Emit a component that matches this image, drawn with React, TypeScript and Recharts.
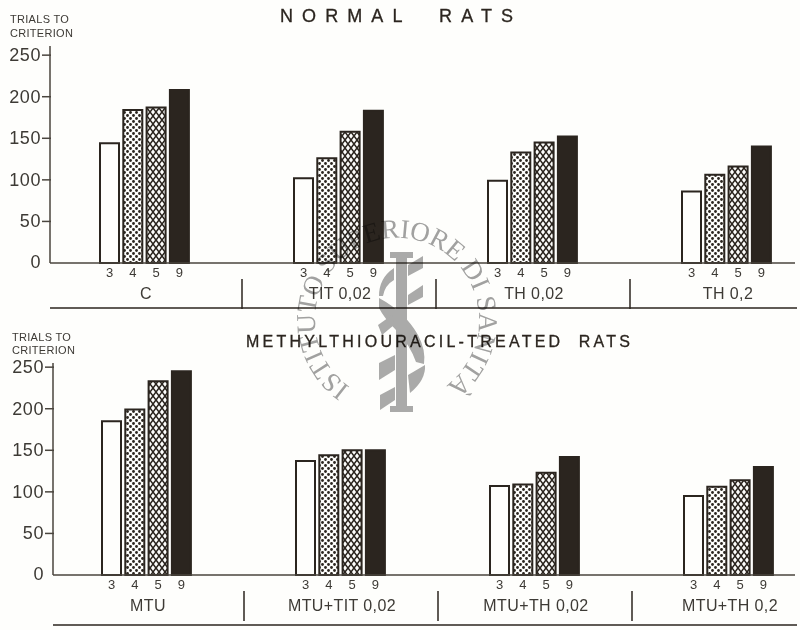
import { BarChart, Bar, XAxis, YAxis, LabelList } from 'recharts';

const INK = '#2b251f';
const AXIS = '#4a453e';
const TEXT = '#3d3a35';
const FONT = '"Liberation Sans", Arial, sans-serif';

const SERIES_KEYS = ['3', '4', '5', '9'];
const SERIES_FILLS = ['#fefefc', 'url(#dots)', 'url(#lattice)', INK];
const Y_TICKS = [0, 50, 100, 150, 200, 250];

const NORMAL_GROUPS = ['C', 'TIT 0,02', 'TH 0,02', 'TH 0,2'];
const NORMAL_3 = [144, 102, 99, 86];
const NORMAL_4 = [184, 126, 133, 106];
const NORMAL_5 = [187, 158, 145, 116];
const NORMAL_9 = [208, 183, 152, 140];

const TREATED_GROUPS = ['MTU', 'MTU+TIT 0,02', 'MTU+TH 0,02', 'MTU+TH 0,2'];
const TREATED_3 = [185, 137, 107, 95];
const TREATED_4 = [199, 144, 109, 106];
const TREATED_5 = [233, 150, 123, 114];
const TREATED_9 = [245, 150, 142, 130];

const buildRows = (groups: string[], series: number[][]) =>
  groups.map((name, i) => {
    const row: Record<string, string | number> = { name };
    SERIES_KEYS.forEach((key, s) => {
      row[key] = series[s][i];
    });
    return row;
  });

const normalData = buildRows(NORMAL_GROUPS, [NORMAL_3, NORMAL_4, NORMAL_5, NORMAL_9]);
const treatedData = buildRows(TREATED_GROUPS, [TREATED_3, TREATED_4, TREATED_5, TREATED_9]);

const GROUP_STEP = 194;

function YTick({ x, y, payload }: any) {
  return (
    <g>
      {payload.value !== 0 && <line x1={x} x2={x + 9} y1={y} y2={y} stroke={AXIS} strokeWidth={1.5} />}
      <text x={x - 1} y={y + (payload.value === 0 ? -1 : 0)} dy={6} textAnchor="end" fontFamily={FONT} fontSize={18} letterSpacing={0.6} fill={TEXT}>
        {payload.value}
      </text>
    </g>
  );
}

function GroupTick({ x, y, payload, index }: any) {
  return (
    <g>
      <text x={x + 2} y={y + 28} textAnchor="middle" fontFamily={FONT} fontSize={16} letterSpacing={0.4} fill={TEXT}>
        {payload.value}
      </text>
      {index < 3 && <line x1={x + GROUP_STEP / 2 + 1} x2={x + GROUP_STEP / 2 + 1} y1={y + 8} y2={y + 38} stroke={INK} strokeWidth={1.5} />}
    </g>
  );
}

function seriesDigit(digit: string) {
  return ({ x, y, width, height }: any) => (
    <text x={x + width / 2} y={y + height + 14} textAnchor="middle" fontFamily={FONT} fontSize={13} fill={TEXT}>
      {digit}
    </text>
  );
}

function Patterns() {
  return (
    <defs>
      <pattern id="dots" width={6} height={6} patternUnits="userSpaceOnUse">
        <rect width={6} height={6} fill="#fefefc" />
        <circle cx={1.5} cy={1.5} r={1.4} fill={INK} />
        <circle cx={4.5} cy={4.5} r={1.4} fill={INK} />
      </pattern>
      <pattern id="lattice" width={6} height={8} patternUnits="userSpaceOnUse">
        <rect width={6} height={8} fill="#fefefc" />
        <path d="M-1 -1.33 L7 9.33 M7 -1.33 L-1 9.33" stroke={INK} strokeWidth={1.6} />
      </pattern>
    </defs>
  );
}

function Panel({ data, top, height, marginTop, axisLeft, yMax, ruleY, centerPad }: any) {
  return (
    <div style={{ position: 'absolute', left: 0, top }}>
      <BarChart
        width={800}
        height={height}
        data={data}
        margin={{ top: marginTop, right: 5, bottom: 0, left: 0 }}
        barSize={19}
        barGap={4.3}
      >
        <Patterns />
        <XAxis
          dataKey="name"
          scale="point"
          padding={{ left: centerPad, right: 795 - (axisLeft + centerPad + GROUP_STEP * 3) }}
          height={55}
          interval={0}
          tickLine={false}
          axisLine={{ stroke: AXIS, strokeWidth: 1.5 }}
          tick={<GroupTick />}
        />
        <YAxis
          width={axisLeft}
          domain={[0, yMax]}
          ticks={Y_TICKS}
          tickLine={false}
          axisLine={{ stroke: AXIS, strokeWidth: 1.5 }}
          tick={<YTick />}
          interval={0}
        />
        {SERIES_KEYS.map((key, s) => (
          <Bar key={key} dataKey={key} fill={SERIES_FILLS[s]} stroke={INK} strokeWidth={2} isAnimationActive={false}>
            <LabelList content={seriesDigit(key)} />
          </Bar>
        ))}
        <line x1={axisLeft} x2={797} y1={ruleY} y2={ruleY} stroke={INK} strokeWidth={1.6} />
      </BarChart>
    </div>
  );
}

function Titles() {
  return (
    <svg width={800} height={630} style={{ position: 'absolute', left: 0, top: 0, pointerEvents: 'none' }}>
      <g fontFamily={FONT} fill={INK} stroke={INK} strokeWidth={0.3}>
        <text x={280} y={22} fontSize={18} textLength={233} lengthAdjust="spacing" xmlSpace="preserve">NORMAL  RATS</text>
        <text x={246} y={347} fontSize={16} textLength={384} lengthAdjust="spacing" xmlSpace="preserve">METHYLTHIOURACIL-TREATED  RATS</text>
      </g>
      <g fontFamily={FONT} fontSize={11} fill={TEXT} letterSpacing={0.3}>
        <text x={10} y={23}>TRIALS TO</text>
        <text x={10} y={37}>CRITERION</text>
        <text x={12} y={341}>TRIALS TO</text>
        <text x={12} y={354}>CRITERION</text>
      </g>
    </svg>
  );
}

function Watermark() {
  const grey = '#ababab';
  return (
    <svg width={800} height={630} style={{ position: 'absolute', left: 0, top: 0, pointerEvents: 'none', mixBlendMode: 'multiply' }}>
      <defs>
        <path id="stampArc" d="M350 387 A82 82 0 1 1 444 387" />
      </defs>
      <text fontFamily='"Liberation Serif", serif' fontSize={27} fill="#a2a2a2">
        <textPath href="#stampArc" textLength={412} lengthAdjust="spacing">ISTITUTO SUPERIORE DI SANITÀ</textPath>
      </text>
      <g fill={grey}>
        <rect x={396} y={252} width={11} height={160} />
        <rect x={390} y={252} width={23} height={6} />
        <rect x={390} y={406} width={23} height={6} />
        <path d="M408 265 L423 256 L423 268 L408 276 Z" />
        <path d="M408 295 L423 285 L423 297 L408 305 Z" />
        <path d="M394 268 L394 280 Q385 285 383 296 L379 296 Q379 278 394 268 Z" />
        <path d="M379 298 Q405 312 418 335 Q426 350 424 364 L416 362 Q410 345 396 330 Q384 318 379 308 Z" />
        <path d="M408 375 L425 365 Q426 380 410 393 Z" />
        <path d="M379 363 L395 355 L395 370 L379 380 Z" />
        <path d="M380 395 L395 387 L395 400 L380 410 Z" />
        <path d="M378 325 L392 315 L394 325 L382 335 Z" />
      </g>
    </svg>
  );
}

export default function App() {
  return (
    <div style={{ position: 'absolute', left: 0, top: 0, width: 800, height: 630, background: '#fefefc', overflow: 'hidden' }}>
      <Panel data={normalData} top={0} height={318} marginTop={46} axisLeft={50} yMax={261} ruleY={308} centerPad={94} />
      <Panel data={treatedData} top={320} height={310} marginTop={43} axisLeft={53} yMax={255} ruleY={305} centerPad={93} />
      <Titles />
      <Watermark />
    </div>
  );
}
